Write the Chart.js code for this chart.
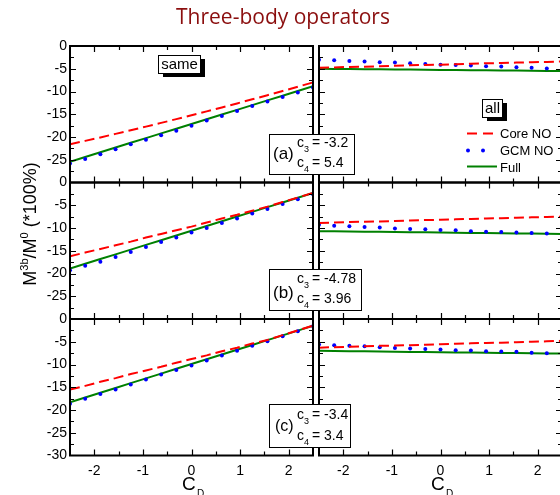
<!DOCTYPE html>
<html>
<head>
<meta charset="utf-8">
<script src="https://cdn.jsdelivr.net/npm/chart.js@4.4.1/dist/chart.umd.min.js"></script>
<style>
  html, body { margin: 0; padding: 0; background: #fff; }
  #wrap { position: relative; width: 560px; height: 495px; overflow: hidden; background: #fff; }
  #wrap canvas { position: absolute; left: 0; top: 0; }
</style>
</head>
<body>
<div id="wrap">
  <canvas id="la" width="566" height="495"></canvas>
  <canvas id="lb" width="566" height="495"></canvas>
  <canvas id="lc" width="566" height="495"></canvas>
  <canvas id="ra" width="566" height="495"></canvas>
  <canvas id="rb" width="566" height="495"></canvas>
  <canvas id="rc" width="566" height="495"></canvas>
</div>
<script>
// c_D grid shared by every curve
const cD = [-2.5, -2.1875, -1.875, -1.5625, -1.25, -0.9375, -0.625, -0.3125, 0,
            0.3125, 0.625, 0.9375, 1.25, 1.5625, 1.875, 2.1875, 2.5];

// (a) c3 = -3.2, c4 = 5.4
const coreSameA = [-21.6, -20.85, -20.09, -19.31, -18.52, -17.72, -16.9, -16.07, -15.23, -14.37, -13.5, -12.62, -11.72, -10.81, -9.89, -8.95, -8.0];
const gcmSameA  = [-25.8, -24.85, -23.8, -22.7, -21.6, -20.6, -19.6, -18.6, -17.5, -16.4, -15.4, -14.3, -13.2, -12.2, -11.2, -10.2, -9.1];
const fullSameA = [-25.43, -24.39, -23.36, -22.32, -21.28, -20.25, -19.21, -18.17, -17.14, -16.1, -15.06, -14.03, -12.99, -11.95, -10.92, -9.88, -8.84];
const coreAllA  = [-4.8, -4.7, -4.6, -4.55, -4.45, -4.35, -4.25, -4.15, -4.1, -4.0, -3.9, -3.8, -3.75, -3.65, -3.55, -3.5, -3.4];
const gcmAllA   = [-3.0, -3.15, -3.3, -3.4, -3.55, -3.65, -3.8, -3.95, -4.1, -4.15, -4.3, -4.45, -4.5, -4.65, -4.8, -4.95, -5.1];
const fullAllA  = [-5.0, -5.03, -5.06, -5.09, -5.13, -5.16, -5.19, -5.22, -5.25, -5.28, -5.31, -5.34, -5.38, -5.41, -5.44, -5.47, -5.5];

// (b) c3 = -4.78, c4 = 3.96
const coreSameB = [-16.2, -15.4, -14.6, -13.8, -13.0, -12.1, -11.3, -10.5, -9.7, -8.8, -7.9, -7.1, -6.2, -5.3, -4.3, -3.3, -2.3];
const gcmSameB  = [-19.3, -18.3, -17.4, -16.4, -15.3, -14.2, -13.1, -12.1, -11.0, -10.0, -8.9, -7.9, -6.8, -5.8, -4.7, -3.7, -2.6];
const fullSameB = [-18.9, -17.86, -16.83, -15.79, -14.75, -13.71, -12.68, -11.64, -10.6, -9.56, -8.53, -7.49, -6.45, -5.41, -4.38, -3.34, -2.3];
const coreAllB  = [-8.9, -8.8, -8.7, -8.6, -8.55, -8.45, -8.35, -8.25, -8.2, -8.1, -8.0, -7.9, -7.85, -7.75, -7.65, -7.6, -7.5];
const gcmAllB   = [-9.3, -9.5, -9.6, -9.8, -9.9, -10.1, -10.2, -10.3, -10.45, -10.5, -10.7, -10.8, -10.9, -11.0, -11.1, -11.2, -11.3];
const fullAllB  = [-10.7, -10.74, -10.78, -10.81, -10.85, -10.89, -10.93, -10.96, -11.0, -11.04, -11.08, -11.11, -11.15, -11.19, -11.23, -11.26, -11.3];

// (c) c3 = -3.4, c4 = 3.4
const coreSameC = [-15.5, -14.7, -13.8, -13.0, -12.1, -11.3, -10.5, -9.6, -8.8, -8.0, -7.1, -6.3, -5.4, -4.6, -3.55, -2.5, -1.45];
const gcmSameC  = [-18.6, -17.5, -16.5, -15.5, -14.4, -13.3, -12.2, -11.2, -10.2, -9.1, -8.0, -7.0, -5.9, -4.9, -3.8, -2.7, -1.6];
const fullSameC = [-18.3, -17.25, -16.2, -15.15, -14.1, -13.05, -12.0, -10.95, -9.9, -8.85, -7.8, -6.75, -5.7, -4.65, -3.6, -2.55, -1.5];
const coreAllC  = [-6.3, -6.2, -6.1, -6.0, -5.9, -5.85, -5.75, -5.65, -5.55, -5.45, -5.35, -5.25, -5.2, -5.1, -5.0, -4.9, -4.8];
const gcmAllC   = [-5.6, -5.75, -5.9, -6.0, -6.2, -6.35, -6.5, -6.6, -6.7, -6.85, -6.9, -7.1, -7.15, -7.2, -7.4, -7.5, -7.6];
const fullAllC  = [-7.0, -7.04, -7.08, -7.11, -7.15, -7.19, -7.23, -7.26, -7.3, -7.34, -7.38, -7.41, -7.45, -7.49, -7.53, -7.56, -7.6];

// ticks
const xTickLabels = [-2, -1, 0, 1, 2];
const xMinorTicks = [-2, -1.5, -1, -0.5, 0, 0.5, 1, 1.5, 2];
const yTickLabels = [-25, -20, -15, -10, -5, 0];
const yTickLabelsLast = [-30, -25, -20, -15, -10, -5, 0];
const yMinorTicks = [-27.5, -25, -22.5, -20, -17.5, -15, -12.5, -10, -7.5, -5, -2.5];

const seriesNames = ['Core NO', 'GCM NO', 'Full'];
const coefs = [['(a)', '-3.2', '5.4'], ['(b)', '-4.78', '3.96'], ['(c)', '-3.4', '3.4']];

const W = 566, H = 495;
const colX = [[70, 313], [319, 563]];
const rowY = [[46, 182.5], [182.5, 319], [319, 455.5]];
const AXFONT = '"Liberation Sans", Arial, sans-serif';

function pts(ys) { return cD.map((x, i) => ({x: x, y: ys[i]})); }

// inward tick marks + frame, like the original plotting program
const framePlugin = {
  id: 'frame',
  afterDatasetsDraw(chart) {
    const {ctx, chartArea: a, scales: {x, y}} = chart;
    ctx.save();
    ctx.strokeStyle = '#000';
    ctx.lineWidth = 1.2;
    ctx.beginPath();
    xMinorTicks.forEach(v => {
      const px = Math.round(x.getPixelForValue(v)) + 0.5;
      const len = Number.isInteger(v) ? 6 : 4;
      ctx.moveTo(px, a.top); ctx.lineTo(px, a.top + len);
      ctx.moveTo(px, a.bottom); ctx.lineTo(px, a.bottom - len);
    });
    yMinorTicks.forEach(v => {
      const py = Math.round(y.getPixelForValue(v)) + 0.5;
      const len = v % 5 === 0 ? 6 : 4;
      ctx.moveTo(a.left, py); ctx.lineTo(a.left + len, py);
      ctx.moveTo(a.right, py); ctx.lineTo(a.right - len, py);
    });
    ctx.stroke();
    ctx.lineWidth = 2;
    ctx.strokeRect(a.left, a.top, a.right - a.left, a.bottom - a.top);
    ctx.restore();
  }
};

function shadowBox(ctx, x, y, w, h, text) {
  ctx.fillStyle = '#000';
  ctx.fillRect(x + 5, y + 4, w, h);
  ctx.fillStyle = '#fff';
  ctx.fillRect(x, y, w, h);
  ctx.strokeStyle = '#000';
  ctx.lineWidth = 1;
  ctx.strokeRect(x + 0.5, y + 0.5, w, h);
  ctx.fillStyle = '#000';
  ctx.font = '15px ' + AXFONT;
  ctx.textAlign = 'center';
  ctx.textBaseline = 'alphabetic';
  ctx.fillText(text, x + w / 2 + 0.5, y + h - 4);
}

function coefBox(ctx, box, tagX, tagY, tagSize, line1, line2, c) {
  ctx.fillStyle = '#fff';
  ctx.fillRect(box[0], box[1], box[2], box[3]);
  ctx.strokeStyle = '#000';
  ctx.lineWidth = 1;
  ctx.strokeRect(box[0] + 0.5, box[1] + 0.5, box[2], box[3]);
  ctx.fillStyle = '#000';
  ctx.textAlign = 'left';
  ctx.textBaseline = 'alphabetic';
  ctx.font = tagSize + 'px ' + AXFONT;
  ctx.fillText(c[0], tagX, tagY);
  [[line1, '3', c[1]], [line2, '4', c[2]]].forEach(([by, sub, val]) => {
    ctx.font = '14px ' + AXFONT;
    ctx.fillText('c', 297, by);
    ctx.font = '9px ' + AXFONT;
    ctx.fillText(sub, 304, by + 5);
    ctx.font = '14px ' + AXFONT;
    ctx.fillText('= ' + val, 312, by);
  });
}

const notesPlugin = {
  id: 'notes',
  afterDraw(chart) {
    const ctx = chart.ctx;
    ctx.save();
    // title
    ctx.fillStyle = '#8b0e0e';
    ctx.font = '21px "Open Sans", sans-serif';
    ctx.textAlign = 'center';
    ctx.textBaseline = 'alphabetic';
    ctx.fillText('Three-body operators', 283, 24);

    // y axis title with superscripts, rotated
    ctx.save();
    ctx.translate(36, 224);
    ctx.rotate(-Math.PI / 2);
    const parts = [['M', 18, 0], ['3b', 11, -8], ['/M', 18, 0], ['0', 11, -8], [' (*100%)', 18, 0]];
    let total = 0;
    parts.forEach(p => { ctx.font = p[1] + 'px ' + AXFONT; total += ctx.measureText(p[0]).width; });
    let u = -total / 2;
    ctx.fillStyle = '#000';
    ctx.textAlign = 'left';
    parts.forEach(p => {
      ctx.font = p[1] + 'px ' + AXFONT;
      ctx.fillText(p[0], u, p[2]);
      u += ctx.measureText(p[0]).width;
    });
    ctx.restore();

    // x axis titles
    ctx.fillStyle = '#000';
    ctx.textAlign = 'left';
    [[182, 490], [431, 490]].forEach(([x0, y0]) => {
      ctx.font = '19px ' + AXFONT;
      ctx.fillText('C', x0, y0);
      ctx.font = '10px ' + AXFONT;
      ctx.fillText('D', x0 + 15, y0 + 7);
    });

    // labels and coefficient boxes
    shadowBox(ctx, 158, 55, 42, 18, 'same');
    shadowBox(ctx, 482, 99, 20, 18, 'all');
    coefBox(ctx, [269, 134, 85, 40], 273, 159, 17, 147, 167, coefs[0]);
    coefBox(ctx, [269, 269, 92, 41], 273, 298, 17, 283, 303, coefs[1]);
    coefBox(ctx, [269, 404, 81, 43], 275, 431, 16, 419, 440, coefs[2]);

    // legend
    ctx.lineWidth = 2;
    ctx.strokeStyle = '#ff0000';
    ctx.beginPath();
    ctx.moveTo(467, 133.5); ctx.lineTo(477, 133.5);
    ctx.moveTo(483, 133.5); ctx.lineTo(493, 133.5);
    ctx.stroke();
    ctx.fillStyle = '#0000ff';
    [468, 483].forEach(px => { ctx.beginPath(); ctx.arc(px, 150.5, 2, 0, Math.PI * 2); ctx.fill(); });
    ctx.strokeStyle = '#008000';
    ctx.beginPath();
    ctx.moveTo(467, 166.5); ctx.lineTo(497, 166.5);
    ctx.stroke();
    ctx.fillStyle = '#000';
    ctx.font = '13px ' + AXFONT;
    ctx.textAlign = 'left';
    ctx.fillText(seriesNames[0], 500, 138);
    ctx.fillText(seriesNames[1], 500, 155);
    ctx.fillText(seriesNames[2], 500, 171.5);
    ctx.restore();
  }
};

function makePanel(id, col, row, core, gcm, full) {
  const left = col === 0, bottom = row === 2;
  const [x0, x1] = colX[col];
  const [y0, y1] = rowY[row];
  const xAxisH = bottom ? 30 : 0;
  const yAxisW = left ? x0 : 0;
  const plugins = [framePlugin];
  if (id === 'rc') plugins.push(notesPlugin);
  return new Chart(document.getElementById(id), {
    type: 'line',
    data: {
      datasets: [
        {label: seriesNames[0], data: pts(core), borderColor: '#ff0000', borderWidth: 2,
         borderDash: [10, 5], pointRadius: 0, fill: false, tension: 0},
        {label: seriesNames[1], data: pts(gcm), showLine: false, pointRadius: 2,
         pointBackgroundColor: '#0000ff', pointBorderWidth: 0},
        {label: seriesNames[2], data: pts(full), borderColor: '#008000', borderWidth: 2,
         pointRadius: 0, fill: false, tension: 0}
      ]
    },
    options: {
      responsive: false,
      animation: false,
      events: [],
      layout: {padding: {left: left ? 0 : x0, right: W - x1, top: y0, bottom: H - y1 - xAxisH}},
      plugins: {legend: {display: false}, tooltip: {enabled: false}},
      scales: {
        x: {
          type: 'linear', min: -2.5, max: 2.5, display: bottom,
          grid: {display: false, drawTicks: false}, border: {display: false},
          ticks: {color: '#000', padding: 7, font: {family: AXFONT, size: 14}, maxRotation: 0,
                  callback: v => String(v)},
          afterBuildTicks: s => { s.ticks = xTickLabels.map(v => ({value: v})); },
          afterFit: s => { s.height = xAxisH; s.paddingLeft = 0; s.paddingRight = 0; }
        },
        y: {
          type: 'linear', min: -30, max: 0, display: left,
          grid: {display: false, drawTicks: false}, border: {display: false},
          ticks: {color: '#000', padding: 3, font: {family: AXFONT, size: 14},
                  callback: v => String(v)},
          afterBuildTicks: s => { s.ticks = (bottom ? yTickLabelsLast : yTickLabels).map(v => ({value: v})); },
          afterFit: s => { s.width = yAxisW; s.paddingTop = 0; s.paddingBottom = 0; }
        }
      }
    },
    plugins: plugins
  });
}

makePanel('la', 0, 0, coreSameA, gcmSameA, fullSameA);
makePanel('lb', 0, 1, coreSameB, gcmSameB, fullSameB);
makePanel('lc', 0, 2, coreSameC, gcmSameC, fullSameC);
makePanel('ra', 1, 0, coreAllA, gcmAllA, fullAllA);
makePanel('rb', 1, 1, coreAllB, gcmAllB, fullAllB);
makePanel('rc', 1, 2, coreAllC, gcmAllC, fullAllC);
</script>
</body>
</html>
